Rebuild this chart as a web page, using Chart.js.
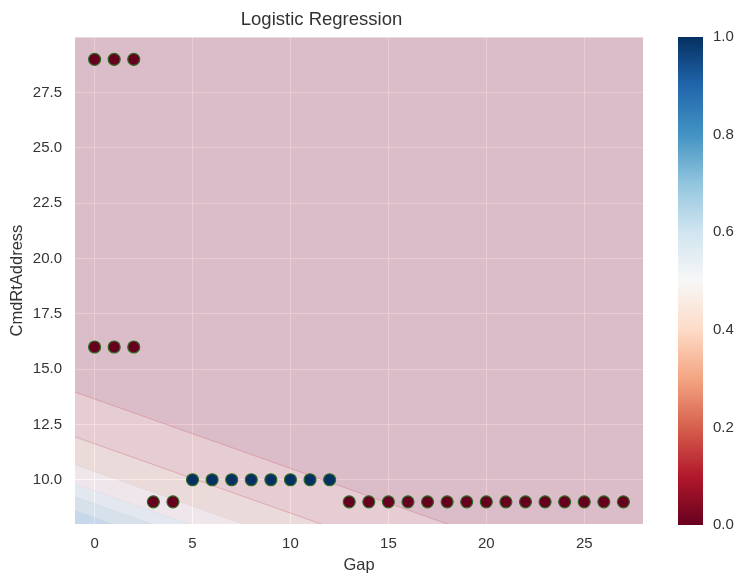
<!DOCTYPE html>
<html>
<head>
<meta charset="utf-8">
<title>Logistic Regression</title>
<script src="https://cdn.jsdelivr.net/npm/chart.js@4.4.1/dist/chart.umd.min.js"></script>
<style>
  body{margin:0;background:#fff;}
  #wrap{position:relative;width:737px;height:577px;}
  canvas{position:absolute;left:0;top:0;}
</style>
</head>
<body>
<div id="wrap">
  <canvas id="plot" width="737" height="577"></canvas>
  <canvas id="cbar" width="737" height="577"></canvas>
</div>
<script>
// ================= DATA =================
const class0Gap  = [0,1,2, 0,1,2, 3,4, 13,14,15,16,17,18,19,20,21,22,23,24,25,26,27];
const class0Addr = [29,29,29, 16,16,16, 9,9, 9,9,9,9,9,9,9,9,9,9,9,9,9,9,9];
const class1Gap  = [5,6,7,8,9,10,11,12];
const class1Addr = [10,10,10,10,10,10,10,10];

// contour edges of the probability surface, read at Gap = -1 and Gap = 28
const edgeGap   = [-1, 28];
const edgeLeft  = [13.96, 11.94, 10.68, 9.82, 9.23, 8.60];
const edgeRight = [4.87, 2.85, 1.59, 0.73, 0.14, -0.49];

const xTicks  = [0,5,10,15,20,25];
const yTicks  = [10,12.5,15,17.5,20,22.5,25,27.5];
const cbTicks = [0,0.2,0.4,0.6,0.8,1];

// ================= STYLE =================
const FONT = "'Liberation Sans', Arial, sans-serif";
const TEXT = "#333";

// band fills, top (p low) to bottom-left corner
const bandColors = [
  "rgba(174,50,78,0.25)",
  "rgba(218,118,118,0.25)",
  "rgba(234,170,146,0.25)",
  "rgba(250,218,210,0.25)",
  "rgba(206,222,230,0.25)",
  "rgba(154,198,218,0.25)",
  "rgba(94,162,210,0.25)"
];

const rdbu = ["#67001f","#b2182b","#d6604d","#f4a582","#fddbc7","#f7f7f7",
              "#d1e5f0","#92c5de","#4393c3","#2166ac","#053061"];

// ================= PLOT =================
const plotBg = {
  id: "plotBg",
  beforeDraw(chart){
    const a = chart.chartArea;
    const c = chart.ctx;
    c.save();
    c.fillStyle = "#eaeaf2";
    c.fillRect(a.left, a.top, a.right - a.left, a.bottom - a.top);
    c.restore();
  }
};

function edgeData(i){
  return [
    {x: edgeGap[0], y: edgeLeft[i]},
    {x: edgeGap[1], y: edgeRight[i]}
  ];
}

const datasets = [];

edgeLeft.forEach((_, i) => {
  datasets.push({
    type: "line",
    data: edgeData(i),
    showLine: true,
    pointRadius: 0,
    borderWidth: i < 2 ? 1 : 0.6,
    borderColor: i < 2 ? "rgba(205,90,110,0.35)" : "rgba(180,160,170,0.15)",
    backgroundColor: bandColors[i],
    fill: i === 0 ? "end" : "-1",
    order: 5
  });
});

// last band below the lowest edge
datasets.push({
  type: "line",
  data: edgeData(edgeLeft.length - 1),
  showLine: true,
  pointRadius: 0,
  borderWidth: 0,
  backgroundColor: bandColors[edgeLeft.length],
  fill: "start",
  order: 5
});

datasets.push({
  data: class0Gap.map((g, i) => ({x: g, y: class0Addr[i]})),
  pointRadius: 6,
  pointBorderWidth: 1.2,
  pointBackgroundColor: "#67001f",
  pointBorderColor: "#2f6b25",
  order: 0
});

datasets.push({
  data: class1Gap.map((g, i) => ({x: g, y: class1Addr[i]})),
  pointRadius: 6,
  pointBorderWidth: 1.2,
  pointBackgroundColor: "#053061",
  pointBorderColor: "#2f6b25",
  order: 0
});

new Chart(document.getElementById("plot"), {
  type: "scatter",
  data: { datasets },
  plugins: [plotBg],
  options: {
    responsive: false,
    animation: false,
    layout: { padding: { left: 0, right: 94, top: 0, bottom: 0 } },
    plugins: {
      legend: { display: false },
      tooltip: { enabled: false },
      title: {
        display: true,
        text: "Logistic Regression",
        color: TEXT,
        font: { family: FONT, size: 18.5, weight: "normal" },
        padding: { top: 9, bottom: 6 }
      }
    },
    scales: {
      x: {
        type: "linear",
        min: -1, max: 28,
        afterBuildTicks: s => { s.ticks = xTicks.map(v => ({value: v})); },
        afterFit: s => { s.height = 53; },
        grid: { color: "#ffffff", lineWidth: 1, drawTicks: false },
        border: { display: false },
        ticks: { color: TEXT, font: { family: FONT, size: 15 }, padding: 11 },
        title: {
          display: true, text: "Gap", color: TEXT,
          font: { family: FONT, size: 16.5 }, padding: { top: 0, bottom: 2 }
        }
      },
      y: {
        type: "linear",
        min: 8, max: 30,
        afterBuildTicks: s => { s.ticks = yTicks.map(v => ({value: v})); },
        afterFit: s => { s.width = 75; },
        grid: { color: "#ffffff", lineWidth: 1, drawTicks: false },
        border: { display: false },
        ticks: {
          color: TEXT, font: { family: FONT, size: 15 }, padding: 13,
          callback: v => v.toFixed(1)
        },
        title: {
          display: true, text: "CmdRtAddress", color: TEXT,
          font: { family: FONT, size: 16.5 }, padding: { top: 8, bottom: 0 }
        }
      }
    }
  }
});

// ================= COLORBAR =================
function cbGradient(ctx){
  const a = ctx.chart.chartArea;
  if(!a) return rdbu[5];
  const g = ctx.chart.ctx.createLinearGradient(0, a.bottom, 0, a.top);
  rdbu.forEach((c, i) => g.addColorStop(i / (rdbu.length - 1), c));
  return g;
}

new Chart(document.getElementById("cbar"), {
  type: "bar",
  data: {
    labels: ["p"],
    datasets: [{
      data: [[cbTicks[0], cbTicks[cbTicks.length - 1]]],
      backgroundColor: cbGradient,
      barPercentage: 1,
      categoryPercentage: 1,
      borderWidth: 0
    }]
  },
  options: {
    responsive: false,
    animation: false,
    layout: { padding: { left: 678, right: 0, top: 37, bottom: 52 } },
    plugins: { legend: { display: false }, tooltip: { enabled: false } },
    scales: {
      x: { display: false },
      y: {
        position: "right",
        min: 0, max: 1,
        afterBuildTicks: s => { s.ticks = cbTicks.map(v => ({value: v})); },
        afterFit: s => { s.width = 34; },
        grid: { display: false, drawTicks: false },
        border: { display: false },
        ticks: {
          color: TEXT, font: { family: FONT, size: 15 }, padding: 10,
          callback: v => v.toFixed(1)
        }
      }
    }
  }
});
</script>
</body>
</html>
